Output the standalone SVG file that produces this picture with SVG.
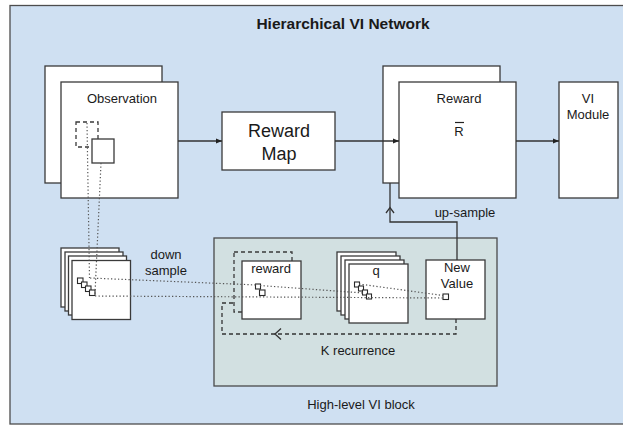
<svg xmlns="http://www.w3.org/2000/svg" width="623" height="426" viewBox="0 0 623 426">
<style>
text{font-family:"Liberation Sans",Arial,sans-serif;fill:#1a1a1a;text-anchor:middle}
.t13{font-size:13px}
.box{fill:#ffffff;stroke:#3a3a3a;stroke-width:1.3}
.dash{fill:none;stroke:#3a3a3a;stroke-width:1.3;stroke-dasharray:4 3}
.sq{fill:#ffffff;stroke:#2a2a2a;stroke-width:1.1}
.dot{fill:none;stroke:#555;stroke-width:1.2;stroke-dasharray:1.3 2.2}
.line{fill:none;stroke:#333;stroke-width:1.3}
.kline{fill:none;stroke:#333;stroke-width:1.3;stroke-dasharray:4 3}
</style>
<defs>
<marker id="arr" viewBox="0 0 10 10" refX="10" refY="5" markerWidth="6" markerHeight="6" orient="auto" markerUnits="userSpaceOnUse">
<path d="M0,1 L10,5 L0,9 Z" fill="#222"/>
</marker>
</defs>
<g id="frame">
<rect x="10" y="5.5" width="620" height="418.5" fill="#cfe0f2" stroke="#4d4d4d" stroke-width="1.3"/>
<text x="343" y="29" style="font-size:15.5px;font-weight:bold">Hierarchical VI Network</text>
</g>
<g id="vi-block">
<rect x="214" y="238" width="283" height="148" fill="#d2e0e1" stroke="#4a4a4a" stroke-width="1.3"/>
<text class="t13" x="361" y="409">High-level VI block</text>
</g>
<g id="observation">
<rect class="box" x="45" y="66" width="117" height="117"/>
<rect class="box" x="61" y="82" width="117" height="116"/>
<text class="t13" x="122" y="103">Observation</text>
<rect class="dash" x="76" y="122" width="22" height="25"/>
<rect class="box" x="92" y="139" width="22" height="24"/>
</g>
<g id="reward-map">
<rect class="box" x="222" y="112" width="113" height="58"/>
<text x="279" y="137" style="font-size:18px">Reward</text>
<text x="279" y="160" style="font-size:18px">Map</text>
</g>
<g id="reward">
<rect class="box" x="383" y="66" width="117" height="117"/>
<rect class="box" x="399" y="82" width="117" height="116"/>
<text class="t13" x="459" y="103">Reward</text>
<text class="t13" x="459" y="136">R</text>
<line x1="455" y1="122.5" x2="464" y2="122.5" stroke="#222" stroke-width="1.2"/>
</g>
<g id="vi-module">
<rect class="box" x="559" y="82" width="59" height="116"/>
<text class="t13" x="588" y="103">VI</text>
<text class="t13" x="588" y="119">Module</text>
</g>
<g id="down-stack">
<rect class="box" x="61" y="248" width="58" height="59"/>
<rect class="box" x="65" y="252" width="58" height="59"/>
<rect class="box" x="68.5" y="256" width="58" height="59"/>
<rect class="box" x="72" y="260.5" width="58.5" height="59"/>
<rect class="sq" x="77.5" y="278" width="5.5" height="5.5"/>
<rect class="sq" x="81.5" y="282" width="5.5" height="5.5"/>
<rect class="sq" x="85.5" y="286" width="5.5" height="5.5"/>
<rect class="sq" x="89.5" y="290" width="5.5" height="5.5"/>
</g>
<g id="reward-small">
<rect class="dash" x="234" y="252" width="58" height="60"/>
<rect class="box" x="242" y="261" width="59" height="58"/>
<text class="t13" x="271" y="273">reward</text>
<rect class="sq" x="255.5" y="284" width="5" height="5"/>
<rect class="sq" x="259.5" y="290" width="5.5" height="5.5"/>
</g>
<g id="q-stack">
<rect class="box" x="337" y="252" width="59" height="59"/>
<rect class="box" x="341" y="256" width="59" height="59"/>
<rect class="box" x="345" y="260" width="59" height="59"/>
<rect class="box" x="349" y="264" width="59" height="59"/>
<text class="t13" x="376" y="275">q</text>
<rect class="sq" x="354.5" y="282" width="5" height="5"/>
<rect class="sq" x="358.5" y="286" width="5" height="5"/>
<rect class="sq" x="362.5" y="290" width="5" height="5"/>
<rect class="sq" x="366.5" y="294" width="5" height="5"/>
</g>
<g id="new-value">
<rect class="box" x="426" y="260" width="59" height="59"/>
<text class="t13" x="457" y="272">New</text>
<text class="t13" x="457" y="288">Value</text>
<rect class="sq" x="443" y="294" width="5.5" height="5.5"/>
</g>
<g id="connectors">
<line class="line" x1="178" y1="141" x2="222" y2="141" marker-end="url(#arr)"/>
<line class="line" x1="335" y1="141" x2="399" y2="141" marker-end="url(#arr)"/>
<line class="line" x1="516" y1="141" x2="559" y2="141" marker-end="url(#arr)"/>
<path class="line" d="M457,260 V222 H390 V183"/>
<polyline class="line" points="386,213 390,207.5 394,213"/>
<text class="t13" x="465" y="217">up-sample</text>
<path class="kline" d="M456,319 V334 H222 V303 H234"/>
<polyline class="line" points="281,328.5 275,334 281,339.5"/>
<text class="t13" x="358" y="355">K recurrence</text>
<text class="t13" x="166" y="259">down</text>
<text class="t13" x="166" y="275">sample</text>
<path class="dot" d="M87,123 L89.5,278"/>
<path class="dot" d="M101,163 L95,294"/>
<path class="dot" d="M90,278 L257,285"/>
<path class="dot" d="M260,285.5 L364,293"/>
<path class="dot" d="M359,284 L443,295.5"/>
<path class="dot" d="M95,296 L443,298"/>
</g>
</svg>
